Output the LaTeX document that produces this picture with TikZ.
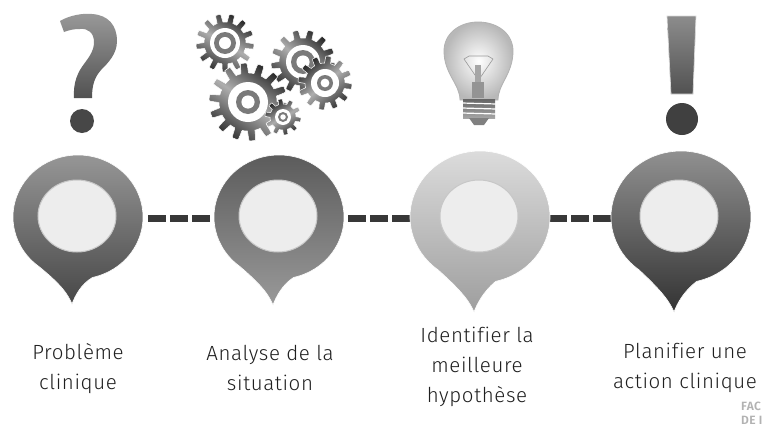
\documentclass[tikz,border=0pt]{standalone}
\usepackage{fontspec}
\setmainfont{Fira Sans Light}[LetterSpace=3,Ligatures=NoCommon]
\usetikzlibrary{shadings}
\tikzset{
  x=1pt,y=-1pt,
  lab/.style={align=center,font=\fontsize{20.5}{30}\selectfont,text=black!88},
  hole/.style={fill=black!7,draw=black!22,line width=1pt},
  dashlink/.style={draw=black!78,line width=7pt,dash pattern=on 18pt off 4pt},
  glass/.style={inner color=white,outer color=black!28,draw=black!30,line width=.8pt},
}
% pin: center x, y, rx, ry, tip x, tip y, top colour, bottom colour, hole centre x
\newcommand{\pinshape}[9]{%
  \shade[top color=#7,bottom color=#8,draw=white,line width=.6pt]
    (#5,#6) .. controls ({#5+3},{#6-8}) and ({#5+9},{#6-20}) .. ({#1+#3*cos(77)+1},{#2+#4*sin(77)+1})
    arc[start angle=77,delta angle=-310,x radius=#3,y radius=#4]
    .. controls ({#5-9},{#6-18}) and ({#5-4},{#6-9}) .. (#5,#6) -- cycle;
  \path[hole] (#9,216) ellipse[x radius=39,y radius=36];
}
\pgfmathdeclarefunction{gearR}{4}{% angle, n, root, tip
  \pgfmathparse{#3+(#4-#3)*min(1,max(0,0.35+1.6*sin(#2*#1)))}}
\newcommand{\gear}[8]{% x,y,tip,root,n,hub outer,hub inner,rotation
  \shade[left color=black!85,right color=black!80,middle color=black!32,shading angle=#8,draw=white,line width=.5pt]
   plot[domain=0:360,samples=360] ({#1+gearR(\x,#5,#4,#3)*cos(\x)},{#2+gearR(\x,#5,#4,#3)*sin(\x)}) -- cycle;
  \fill[white] (#1,#2) circle[radius=#6];
  \fill[black!52] (#1,#2) circle[radius=#7];
  \fill[white] (#1,#2) circle[radius=#7*0.55];
}
\begin{document}
\begin{tikzpicture}
\useasboundingbox[fill=white] (0,0) rectangle (764,426);
% question mark
\shade[top color=black!40,bottom color=black!68]
  (60,21) .. controls (70,15) and (84,13) .. (92,14)
  .. controls (108,15) and (117,25) .. (117,41)
  .. controls (117,54) and (108,63) .. (101,70)
  .. controls (95,77) and (92,84) .. (92,98) -- (74,98)
  .. controls (73,82) and (78,72) .. (84,64)
  .. controls (90,56) and (94,50) .. (94,42)
  .. controls (94,33) and (88,28) .. (80,29)
  .. controls (74,29) and (69,30) .. (64,32) -- cycle;
\fill[black!72] (82,121) circle[radius=12];
% exclamation mark
\shade[top color=black!45,bottom color=black!68,draw=black!15,line width=.7pt]
  (667,16) -- (696,16) -- (693,94) -- (671,94) -- cycle;
\fill[black!75] (682,119) circle[radius=16];
% gears
\gear{225}{43}{29}{21}{13}{15}{11}{-30}
\gear{303}{62}{32}{24}{13}{17}{12}{-40}
\gear{248}{102}{39}{29}{14}{20}{12}{-35}
\gear{325}{83}{27}{20}{12}{14}{8}{40}
\gear{283}{117}{18}{13}{10}{8}{5}{30}
% bulb
\shade[glass]
  (460,100) .. controls (460,84) and (444,74) .. (444,51)
  .. controls (444,34) and (459,22) .. (478,22)
  .. controls (498,22) and (513,34) .. (513,51)
  .. controls (513,74) and (498,84) .. (498,100) -- cycle;
\draw[black!40,line width=.6pt] (477,78) -- (464,59) -- (469,56) -- (488,56) -- (493,59) -- (480,78);
\fill[black!35] (475,65) rectangle (481,82);
\fill[black!42] (472,82) rectangle (484,98);
\shade[top color=black!60,bottom color=black!35] (463,99) rectangle (495,118);
\foreach \yy in {103,108,113}{\draw[white,line width=1.2pt] (462,\yy) -- (496,\yy+1);}
\fill[black!50] (469,118) -- (489,118) -- (484,125) -- (474,125) -- cycle;
% connectors
\coordinate (a1) at (148,218); \coordinate (b1) at (212,218);
\coordinate (a2) at (348,218); \coordinate (b2) at (412,218);
\coordinate (a3) at (549,218); \coordinate (b3) at (613,218);
\draw[dashlink] (a1) -- (b1);
\draw[dashlink] (a2) -- (b2);
\draw[dashlink] (a3) -- (b3);
% pins
\pinshape{77}{216}{65}{62}{72}{304}{black!40}{black!72}{77}
\pinshape{278}{216}{65}{62}{273}{305}{black!65}{black!40}{278}
\pinshape{479}{216}{70}{66}{474}{312}{black!13}{black!38}{479}
\pinshape{680}{216}{70}{66}{674}{312}{black!42}{black!80}{679}
% labels
\node[lab] (t1) at (78,369) {Problème\\clinique};
\node[lab] (t2) at (270,368) {Analyse de la\\situation};
\node[lab] (t3) at (477,367) {Identifier la\\meilleure\\hypothèse};
\node[lab] (t4) at (685,368) {Planifier une\\action clinique};
\node[font=\bfseries\fontsize{12}{13.5}\selectfont,text=black!30,anchor=north west,align=left,inner sep=0pt] (t5) at (741,402) {FAC\\DE I};
\end{tikzpicture}
\end{document}
